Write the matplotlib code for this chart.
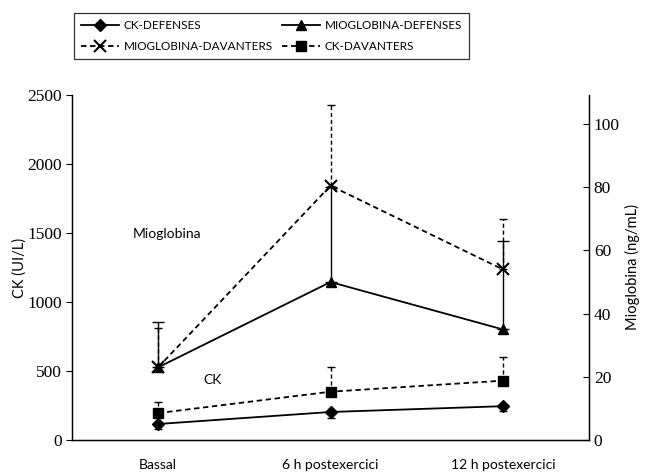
import matplotlib
matplotlib.use("Agg")
import matplotlib.pyplot as plt

# data
moments = ["Bassal", "6 h postexercici", "12 h postexercici"]

ck_defenses = [116, 203, 245]
ck_defenses_err = [36, 45, 35]          # lower bars only

ck_davanters = [195, 350, 430]
ck_davanters_err = [80, 180, 175]       # upper bars only

mio_defenses = [23, 50, 35]
mio_defenses_err = [14.5, 30, 28]       # upper bars only

mio_davanters = [23, 80.5, 54]
mio_davanters_err = [12.5, 25.5, 16]    # upper bars only

plt.rcParams['font.family'] = ['Lato', 'DejaVu Sans']

fig = plt.figure(figsize=(6.53, 4.74), dpi=100)
ax = fig.add_axes([72 / 653, 1 - 440 / 474, (589 - 72) / 653, (440 - 95) / 474])
ax2 = ax.twinx()

x = list(range(len(moments)))
lw = 1.3

# CK on the left axis
h1, = ax.plot(x, ck_defenses, color="black", lw=lw, ls="-", marker="D", ms=6,
              label="CK-DEFENSES")
eb = ax.errorbar(x, ck_defenses, yerr=[ck_defenses_err, [0] * 3], fmt="none",
                 ecolor="black", elinewidth=1.0, capsize=3)
h4, = ax.plot(x, ck_davanters, color="black", lw=lw, ls=(0, (3, 2)), marker="s", ms=7,
              label="CK-DAVANTERS")
eb = ax.errorbar(x, ck_davanters, yerr=[[0] * 3, ck_davanters_err], fmt="none",
                 ecolor="black", elinewidth=1.0, capsize=3)
eb[2][0].set_linestyle((0, (3, 2)))

# Mioglobina on the right axis
h2, = ax2.plot(x, mio_defenses, color="black", lw=lw, ls="-", marker="^", ms=7,
               label="MIOGLOBINA-DEFENSES")
eb = ax2.errorbar(x, mio_defenses, yerr=[[0] * 3, mio_defenses_err], fmt="none",
                  ecolor="black", elinewidth=1.0, capsize=4)
h3, = ax2.plot(x, mio_davanters, color="black", lw=lw, ls=(0, (3, 2)), marker="x", ms=8,
               mew=1.5, label="MIOGLOBINA-DAVANTERS")
eb = ax2.errorbar(x, mio_davanters, yerr=[[0] * 3, mio_davanters_err], fmt="none",
                  ecolor="black", elinewidth=1.0, capsize=3)
eb[2][0].set_linestyle((0, (3, 2)))

ax.set_xlim(-0.5, 2.5)
ax.set_ylim(0, 2500)
ax2.set_ylim(0, 109.2)
ax.set_yticks([0, 500, 1000, 1500, 2000, 2500])
ax2.set_yticks([0, 20, 40, 60, 80, 100])
ax.set_xticks(x)
ax.set_xticklabels(moments, fontsize=10)
ax.tick_params(axis="x", length=0, pad=14)
ax.tick_params(axis="y", direction="out", length=4, width=0.8)
ax2.tick_params(axis="y", direction="in", length=4, width=0.8)
for lab in ax.get_yticklabels() + ax2.get_yticklabels():
    lab.set_family("Liberation Serif")
    lab.set_fontsize(12.5)

for a in (ax, ax2):
    a.spines["top"].set_visible(False)
    for s in a.spines.values():
        s.set_linewidth(0.9)

ax.set_ylabel("CK (UI/L)", fontsize=10.5, labelpad=0)
ax2.set_ylabel("Mioglobina (ng/mL)", fontsize=10.5, labelpad=4)

ax.text(133 / 653, 1 - 234 / 474, "Mioglobina", transform=fig.transFigure,
        fontsize=10, va="center", ha="left")
ax.text(203 / 653, 1 - 380 / 474, "CK", transform=fig.transFigure,
        fontsize=10, va="center", ha="left")

leg = fig.legend([h1, h3, h2, h4],
                 ["CK-DEFENSES", "MIOGLOBINA-DAVANTERS", "MIOGLOBINA-DEFENSES", "CK-DAVANTERS"],
                 ncol=2, loc="upper left", bbox_to_anchor=(74 / 653, 1 - 13 / 474),
                 fancybox=False, fontsize=8.5, handlelength=3.2, columnspacing=0.8,
                 handletextpad=0.4, borderpad=0.6, labelspacing=0.85, borderaxespad=0)
leg.get_frame().set_edgecolor("black")
leg.get_frame().set_linewidth(0.9)

fig.savefig("out.png", dpi=100)
